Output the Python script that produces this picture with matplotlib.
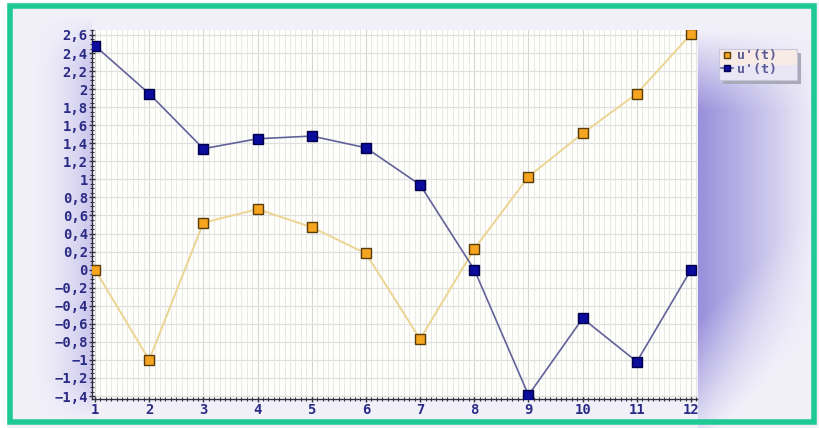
import numpy as np
import matplotlib
matplotlib.use("Agg")
import matplotlib.pyplot as plt
from matplotlib.ticker import FuncFormatter, MultipleLocator
from matplotlib.patches import Rectangle

# data
t = [1, 2, 3, 4, 5, 6, 7, 8, 9, 10, 11, 12]
u1 = [0.0, -1.0, 0.52, 0.67, 0.47, 0.18, -0.77, 0.23, 1.03, 1.51, 1.95, 2.61]
u2 = [2.48, 1.95, 1.34, 1.45, 1.48, 1.35, 0.94, 0.0, -1.39, -0.54, -1.02, 0.0]
labels = ["u'(t)", "u'(t)"]

W, H = 820, 428
fig = plt.figure(figsize=(W / 100, H / 100), dpi=100)

# ---- background (frame + gradients) ----
xx, yy = np.meshgrid(np.arange(W), np.arange(H))
base = np.array([0.948, 0.945, 0.978])
purple = np.array([0.60, 0.56, 0.86])

vert_r = np.clip((yy - 30) / 80, 0, 1)
right = np.clip(1 - (xx - 698) / 120, 0, 1) * vert_r * (xx >= 698)
# lighter diagonal towards bottom right
right *= np.clip(1 - np.clip((xx - 698) + (yy - 320), 0, None) / 130, 0.0, 1)
vert_l = np.clip((yy - 15) / 50, 0, 1) * np.clip((420 - yy) / 40, 0, 1)
left = np.clip((xx - 30) / 62, 0, 1) ** 1.6 * 0.45 * vert_l * (xx < 92)
mix = np.clip(right + left, 0, 1)[..., None]
img = base * (1 - mix) + purple * mix

bg = fig.add_axes([0, 0, 1, 1])
bg.imshow(img, aspect="auto", extent=(0, W, H, 0))
bg.set_xlim(0, W)
bg.set_ylim(H, 0)
bg.axis("off")
green = "#1ec996"
bg.add_patch(Rectangle((0, 0), W, 2, color="white", lw=0))
bg.add_patch(Rectangle((0, 0), 7, H, color="white", lw=0))
bg.add_patch(Rectangle((10.5, 5.5), 804, 416, fill=False, ec=green, lw=4))

# legend box: shadow, two tinted rows, border
bg.add_patch(Rectangle((723, 53), 78, 31, color="#a9a9b8", lw=0))
bg.add_patch(Rectangle((719, 49), 78, 16, color="#f8ebe6", lw=0))
bg.add_patch(Rectangle((719, 65), 78, 15, color="#e9e7f5", lw=0))
bg.add_patch(Rectangle((719, 49), 78, 31, fill=False, ec="#c8c6dc", lw=0.8))

# ---- plot ----
ax = fig.add_axes([92 / W, 1 - 399 / H, 605 / W, 369 / H])
ax.set_facecolor("#fefefb")
ax.plot(t, u1, color="#ecd592", lw=1.4, marker="s", ms=7.5,
        mfc="#f5a51f", mec="#5a3c08", mew=1.0, label=labels[0], zorder=3)
ax.plot(t, u2, color="#62629a", lw=1.2, marker="s", ms=7.5,
        mfc="#0b0b9c", mec="#00004a", mew=1.0, label=labels[1], zorder=3)

ax.set_xlim(0.945, 12.11)
ax.set_ylim(-1.433, 2.655)
ax.xaxis.set_major_locator(MultipleLocator(1))
ax.xaxis.set_minor_locator(MultipleLocator(0.1))
ax.yaxis.set_major_locator(MultipleLocator(0.2))
ax.yaxis.set_minor_locator(MultipleLocator(0.05))


def fmt(v, pos):
    v = round(v, 1)
    if abs(v - round(v)) < 1e-9:
        s = str(int(round(v)))
    else:
        s = f"{v:.1f}".replace(".", ",")
    return s.replace("-", "\u2212")


ax.yaxis.set_major_formatter(FuncFormatter(fmt))
ax.xaxis.set_major_formatter(FuncFormatter(fmt))

ax.grid(which="major", axis="x", color="#d6d6d6", lw=0.8)
ax.grid(which="minor", axis="x", color="#e4e4e4", lw=0.6)
ax.grid(which="major", axis="y", color="#e0e0e0", lw=0.9)
ax.set_axisbelow(True)

for s in ["top", "right"]:
    ax.spines[s].set_visible(False)
for s in ["left", "bottom"]:
    ax.spines[s].set_color("#303040")
    ax.spines[s].set_linewidth(1.0)

navy = "#2b2b86"
ax.tick_params(which="major", length=4, width=1, color="#303040", direction="inout",
               labelsize=10, labelcolor=navy, pad=1)
ax.tick_params(which="minor", length=2.5, width=0.8, color="#303040", direction="inout")
for lab in ax.get_xticklabels() + ax.get_yticklabels():
    lab.set_fontfamily("DejaVu Sans Mono")
    lab.set_fontweight("bold")

leg = ax.legend(loc="upper left", bbox_to_anchor=(720 / W, 1 - 48 / H),
                bbox_transform=fig.transFigure, frameon=False,
                borderpad=0.1, labelspacing=0.05, borderaxespad=0,
                handlelength=0.9, handletextpad=0.3, markerscale=0.65,
                prop={"family": "DejaVu Sans Mono", "size": 9.5, "weight": "bold"})
leg.legend_handles[0].set_linestyle("none")
for txt in leg.get_texts():
    txt.set_color("#5a5a96")

fig.savefig("out.png", dpi=100)
